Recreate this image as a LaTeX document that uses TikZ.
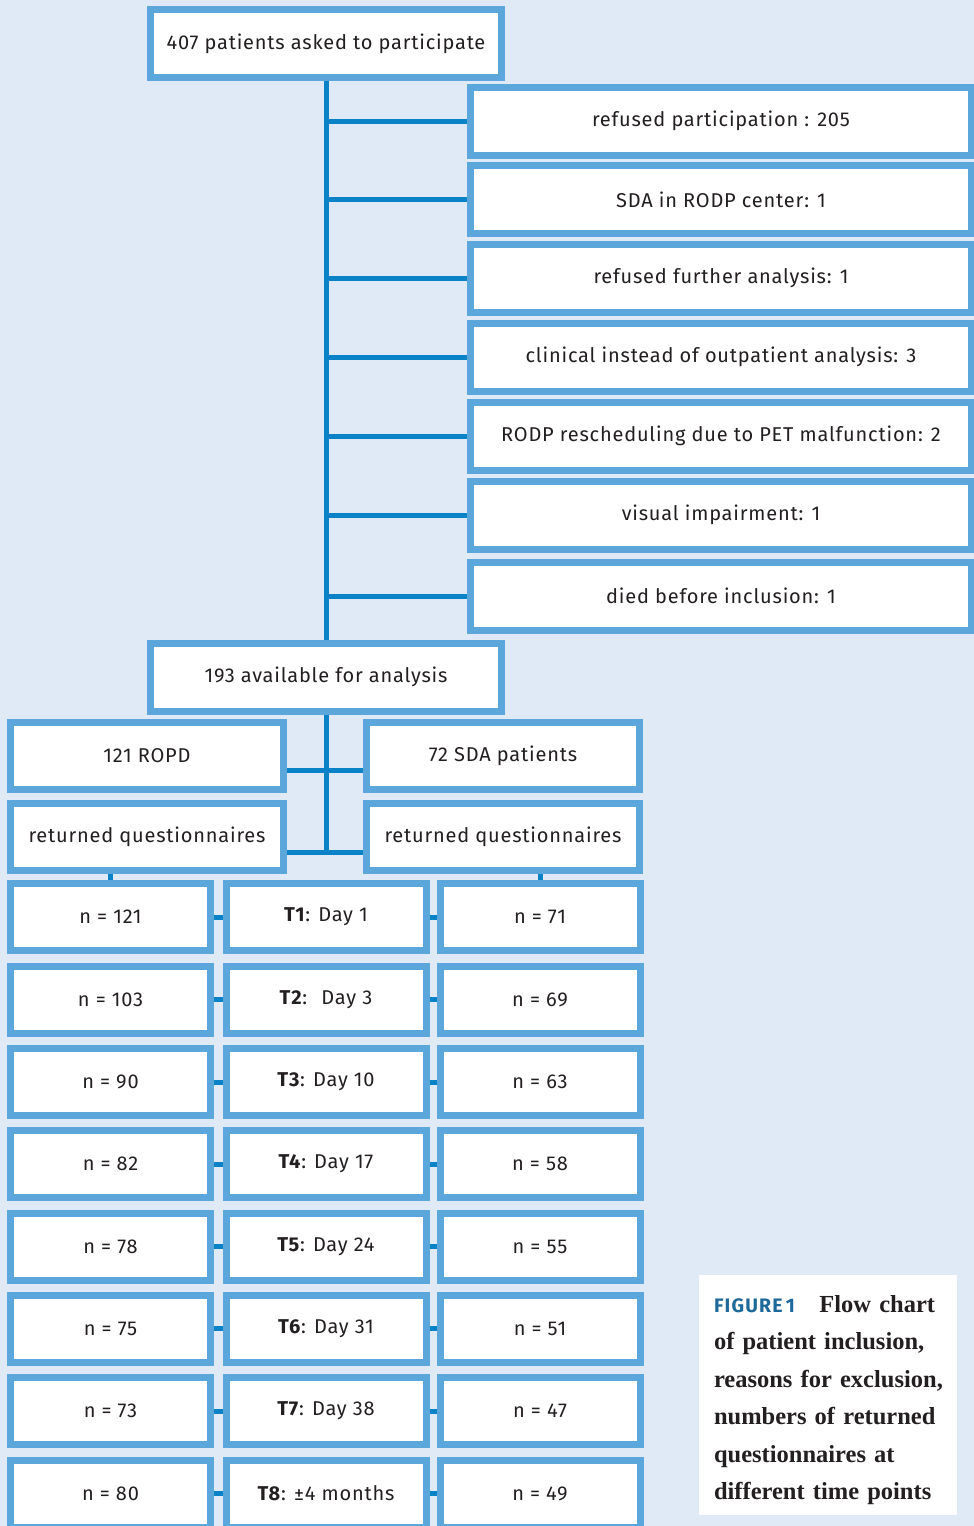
\documentclass[tikz,border=0pt]{standalone}
\usepackage{fontspec}
\setmainfont[LetterSpace=4]{Fira Sans}
\newfontfamily\capfont{Liberation Serif}
\newfontfamily\figfont[LetterSpace=6]{Fira Sans}
\usetikzlibrary{positioning}
\definecolor{bgblue}{RGB}{223,234,246}
\definecolor{boxblue}{RGB}{91,166,219}
\definecolor{lineblue}{RGB}{10,130,200}
\definecolor{txtgray}{RGB}{35,31,32}
\definecolor{figblue}{RGB}{30,105,155}

\begin{document}
\begin{tikzpicture}[
    x=1pt, y=-1pt,
    box/.style={draw=boxblue, line width=7pt, fill=white, inner sep=0pt, text=txtgray, font=\fontsize{20}{23}\selectfont},
    mainbox/.style={box, minimum width=351pt, minimum height=68pt},
    reason/.style={box, minimum width=501pt, minimum height=68pt},
    group/.style={box, minimum width=273pt, minimum height=67pt},
    cell/.style={box, minimum width=200pt, minimum height=67pt},
    link/.style={draw=lineblue, line width=5pt}
]
    % Background
    \fill[bgblue] (0,0) rectangle (974,1526);
    \clip (0,0) rectangle (974,1526);

    % Top node
    \node[mainbox] (asked) at (326,43.5) {407 patients asked to participate};

    % Reasons for exclusion
    \node[reason] (ex1) at (721,121) {refused participation : 205};
    \node[reason] (ex2) at (721,199.5) {SDA in RODP center: 1};
    \node[reason] (ex3) at (721,278) {refused further analysis: 1};
    \node[reason] (ex4) at (721,357) {clinical instead of outpatient analysis: 3};
    \node[reason] (ex5) at (721,436) {RODP rescheduling due to PET malfunction: 2};
    \node[reason] (ex6) at (721,515) {visual impairment: 1};
    \node[reason] (ex7) at (721,596) {died before inclusion: 1};

    % Included patients
    \node[mainbox] (avail) at (326,677) {193 available for analysis};

    % The two groups
    \node[group] (ropd) at (147,756) {121 ROPD};
    \node[group] (sda) at (503,756) {72 SDA patients};
    \node[group] (retL) at (147,837) {returned questionnaires};
    \node[group] (retR) at (503,837) {returned questionnaires};

    % Time points, ROPD left, SDA right
    \node[cell] (nL1) at (110.5,917) {n = 121};
    \node[cell] (t1) at (326,917) {\textbf{T1}: Day 1};
    \node[cell] (nR1) at (540,917) {n = 71};

    \node[cell] (nL2) at (110.5,999.5) {n = 103};
    \node[cell] (t2) at (326,999.5) {\textbf{T2}:~ Day 3};
    \node[cell] (nR2) at (540,999.5) {n = 69};

    \node[cell] (nL3) at (110.5,1082) {n = 90};
    \node[cell] (t3) at (326,1082) {\textbf{T3}: Day 10};
    \node[cell] (nR3) at (540,1082) {n = 63};

    \node[cell] (nL4) at (110.5,1164) {n = 82};
    \node[cell] (t4) at (326,1164) {\textbf{T4}: Day 17};
    \node[cell] (nR4) at (540,1164) {n = 58};

    \node[cell] (nL5) at (110.5,1246.5) {n = 78};
    \node[cell] (t5) at (326,1246.5) {\textbf{T5}: Day 24};
    \node[cell] (nR5) at (540,1246.5) {n = 55};

    \node[cell] (nL6) at (110.5,1328.5) {n = 75};
    \node[cell] (t6) at (326,1328.5) {\textbf{T6}: Day 31};
    \node[cell] (nR6) at (540,1328.5) {n = 51};

    \node[cell] (nL7) at (110.5,1411) {n = 73};
    \node[cell] (t7) at (326,1411) {\textbf{T7}: Day 38};
    \node[cell] (nR7) at (540,1411) {n = 47};

    \node[cell] (nL8) at (110.5,1493.5) {n = 80};
    \node[cell] (t8) at (326,1493.5) {\textbf{T8}: ±4 months};
    \node[cell] (nR8) at (540,1493.5) {n = 49};

    % Caption
    \node[fill=white, minimum width=258pt, minimum height=240pt, inner sep=0pt] (caption) at (828,1395) {};
    \node[text width=232pt, align=left, text=txtgray, inner sep=0pt,
          font=\capfont\bfseries\fontsize{24.5}{37.5}\selectfont] (captext) at (830,1400)
        {{\figfont\bfseries\fontsize{19.5}{37.5}\selectfont\color{figblue}FIGURE\,1}\quad Flow chart\\
         of patient inclusion,\\
         reasons for exclusion,\\
         numbers of returned\\
         questionnaires at\\
         different time points};

    % Edges
    \draw[link] (asked) -- (avail);
    \draw[link] (asked |- ex1) -- (ex1);
    \draw[link] (asked |- ex2) -- (ex2);
    \draw[link] (asked |- ex3) -- (ex3);
    \draw[link] (asked |- ex4) -- (ex4);
    \draw[link] (asked |- ex5) -- (ex5);
    \draw[link] (asked |- ex6) -- (ex6);
    \draw[link] (asked |- ex7) -- (ex7);

    \coordinate (hub) at (326,854.5);
    \draw[link] (avail) -- (hub);
    \draw[link] ([yshift=-14pt]ropd.east) -- ([yshift=-14pt]sda.west);
    \draw[link] ([yshift=-15pt]retL.east) -- ([yshift=-15pt]retR.west);
    \draw[link] (retL.south -| nL1) -- (nL1);
    \draw[link] (retR.south -| nR1) -- (nR1);

    \draw[link] (nL1) -- (t1);
    \draw[link] (t1) -- (nR1);
    \draw[link] (nL2) -- (t2);
    \draw[link] (t2) -- (nR2);
    \draw[link] (nL3) -- (t3);
    \draw[link] (t3) -- (nR3);
    \draw[link] (nL4) -- (t4);
    \draw[link] (t4) -- (nR4);
    \draw[link] (nL5) -- (t5);
    \draw[link] (t5) -- (nR5);
    \draw[link] (nL6) -- (t6);
    \draw[link] (t6) -- (nR6);
    \draw[link] (nL7) -- (t7);
    \draw[link] (t7) -- (nR7);
    \draw[link] (nL8) -- (t8);
    \draw[link] (t8) -- (nR8);
\end{tikzpicture}
\end{document}
